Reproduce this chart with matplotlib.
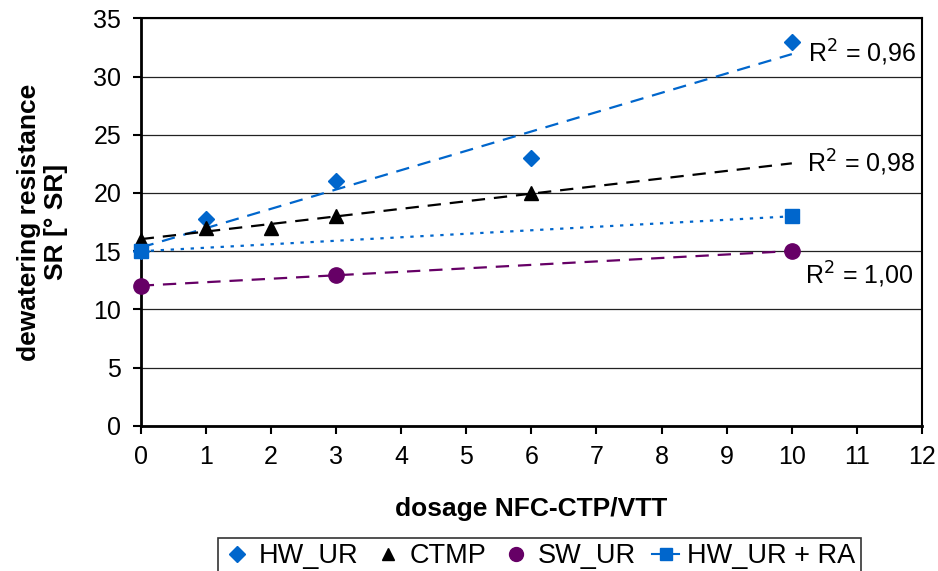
import numpy as np
import matplotlib
matplotlib.use('Agg')
import matplotlib.pyplot as plt
from matplotlib.lines import Line2D

plt.rcParams['font.family'] = ['Liberation Sans', 'DejaVu Sans']

# data
hw_x = [0, 1, 3, 6, 10]
hw_y = [15, 17.8, 21, 23, 33]
ctmp_x = [0, 1, 2, 3, 6]
ctmp_y = [16, 17, 17, 18, 20]
sw_x = [0, 3, 10]
sw_y = [12, 13, 15]
ra_x = [0, 10]
ra_y = [15, 18]
r2_labels = ['R$^2$ = 0,96', 'R$^2$ = 0,98', 'R$^2$ = 1,00']

blue = '#0066CC'
purple = '#660066'

fig = plt.figure(figsize=(9.38, 5.71), dpi=100)
ax = fig.add_axes([0.150, 0.254, 0.833, 0.714])

# linear trendlines
tx = np.array([0, 10])
for xs, ys, col, ls in [(hw_x, hw_y, blue, (0, (6, 4))),
                        (ctmp_x, ctmp_y, 'black', (0, (6, 4))),
                        (sw_x, sw_y, purple, (0, (6, 4))),
                        (ra_x, ra_y, blue, (0, (1.5, 3)))]:
    k, b = np.polyfit(xs, ys, 1)
    ax.plot(tx, k * tx + b, color=col, linestyle=ls, linewidth=1.6, zorder=2)

ax.plot(hw_x, hw_y, 'D', color=blue, markersize=8, zorder=3, clip_on=False)
ax.plot(ctmp_x, ctmp_y, '^', color='black', markersize=10, zorder=3, clip_on=False)
ax.plot(sw_x, sw_y, 'o', color=purple, markersize=11, zorder=3, clip_on=False)
ax.plot(ra_x, ra_y, 's', color=blue, markersize=10, zorder=4, clip_on=False)

ax.text(10.25, 31.2, r2_labels[0], fontsize=18, va='baseline', ha='left')
ax.text(10.23, 21.8, r2_labels[1], fontsize=18, va='baseline', ha='left')
ax.text(10.2, 12.2, r2_labels[2], fontsize=18, va='baseline', ha='left')

ax.set_xlim(0, 12)
ax.set_ylim(0, 35)
ax.set_xticks(range(0, 13))
ax.set_yticks(range(0, 36, 5))
ax.yaxis.grid(True, color='#222222', linewidth=0.9)
ax.set_axisbelow(True)
for s in ax.spines.values():
    s.set_linewidth(1.5)
ax.spines['left'].set_linewidth(2)
ax.spines['bottom'].set_linewidth(2)
ax.tick_params(axis='both', direction='out', length=6, width=1.5, labelsize=18, pad=8)

ax.set_xlabel('dosage NFC-CTP/VTT', fontsize=19, fontweight='bold', labelpad=20)
ax.set_ylabel('dewatering resistance\nSR [° SR]', fontsize=19, fontweight='bold', labelpad=18,
              linespacing=1.15)

handles = [
    Line2D([], [], marker='D', color=blue, linestyle='none', markersize=8),
    Line2D([], [], marker='^', color='black', linestyle='none', markersize=9),
    Line2D([], [], marker='o', color=purple, linestyle='none', markersize=10),
    Line2D([], [], marker='s', color=blue, linestyle='-', linewidth=1.5, markersize=9),
]
leg = fig.legend(handles, ['HW_UR', 'CTMP', 'SW_UR', 'HW_UR + RA'], loc='lower center',
                 bbox_to_anchor=(0.575, -0.03), ncol=4, fontsize=19.5, frameon=True,
                 fancybox=False, edgecolor='black', handlelength=1.0, handletextpad=0.3,
                 columnspacing=0.6, borderpad=0.2)
leg.get_frame().set_linewidth(1.2)

fig.savefig('out.png', dpi=100)
